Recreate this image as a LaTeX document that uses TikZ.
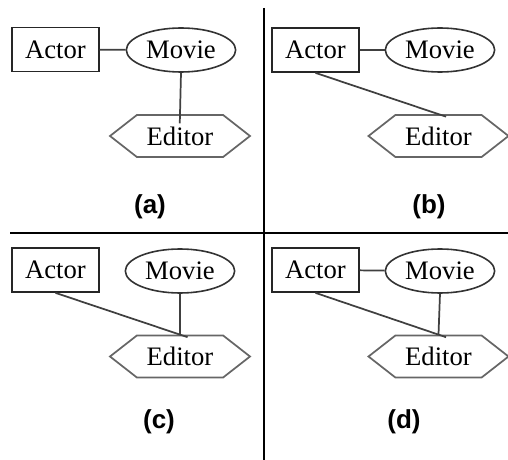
\documentclass[tikz,border=0pt]{standalone}
\usepackage{fontspec}
\setmainfont{Liberation Serif}
\newfontfamily\capfont{Liberation Sans}
\usetikzlibrary{shapes.geometric}
\usetikzlibrary{shapes.symbols}

\tikzset{
  erfont/.style={font=\fontsize{20}{24}\selectfont},
  entity/.style={erfont,draw=black!85,line width=1.3pt,minimum width=65pt,minimum height=33pt,inner sep=0pt},
  attrib/.style={erfont,ellipse,draw=black!80,line width=1.2pt,minimum width=82pt,minimum height=33pt,inner sep=0pt},
  relship/.style={erfont,signal,signal to=west and east,signal pointer angle=76,draw=black!60,line width=1.3pt,minimum width=105pt,minimum height=31.5pt,inner sep=0pt},
  link/.style={draw=black!75,line width=1.3pt},
  caption/.style={font=\capfont\bfseries\fontsize{19.5}{23}\selectfont}
}

\begin{document}
\begin{tikzpicture}[x=0.75pt,y=0.75pt,yscale=-1,xscale=1]
\useasboundingbox (0,0) rectangle (508,460);

%Straight Lines: dividers
\draw [line width=1.1pt]  (264,8) -- (264,460) ;
\draw [line width=1.1pt]  (10,233) -- (508,233) ;

% Panel (a)
\node [entity]  (actA) at (55.5,49.5) {Actor};
\node [attrib]  (movA) at (181,50) {Movie};
\node [relship] (ediA) at (180,136) {Editor};
\draw [link] (actA) -- (movA) ;
\draw [link, shorten >=-7] (movA.south) -- (ediA.north) ;
\node [caption] (capA) at (150,207) {(a)};

% Panel (b)
\node [entity]  (actB) at (315.5,50) {Actor};
\node [attrib]  (movB) at (440,50) {Movie};
\node [relship] (ediB) at (438.5,136) {Editor};
\draw [link] (actB) -- (movB) ;
\draw [link, shorten >=-6] (actB.south) -- (ediB.north) ;
\node [caption] (capB) at (429,207) {(b)};

% Panel (c)
\node [entity]  (actC) at (55.5,270) {Actor};
\node [attrib]  (movC) at (180,271) {Movie};
\node [relship] (ediC) at (180,356.5) {Editor};
\draw [link] (movC.south) -- (ediC.north) ;
\draw [link, shorten >=-6] (actC.south) -- (ediC.north) ;
\node [caption] (capC) at (159,422) {(c)};

% Panel (d)
\node [entity]  (actD) at (315.5,270) {Actor};
\node [attrib]  (movD) at (440,271) {Movie};
\node [relship] (ediD) at (438.5,356.5) {Editor};
\draw [link] (actD) -- (movD) ;
\draw [link] (movD.south) -- (ediD.north) ;
\draw [link, shorten >=-6] (actD.south) -- (ediD.north) ;
\node [caption] (capD) at (404,422) {(d)};
\end{tikzpicture}
\end{document}
